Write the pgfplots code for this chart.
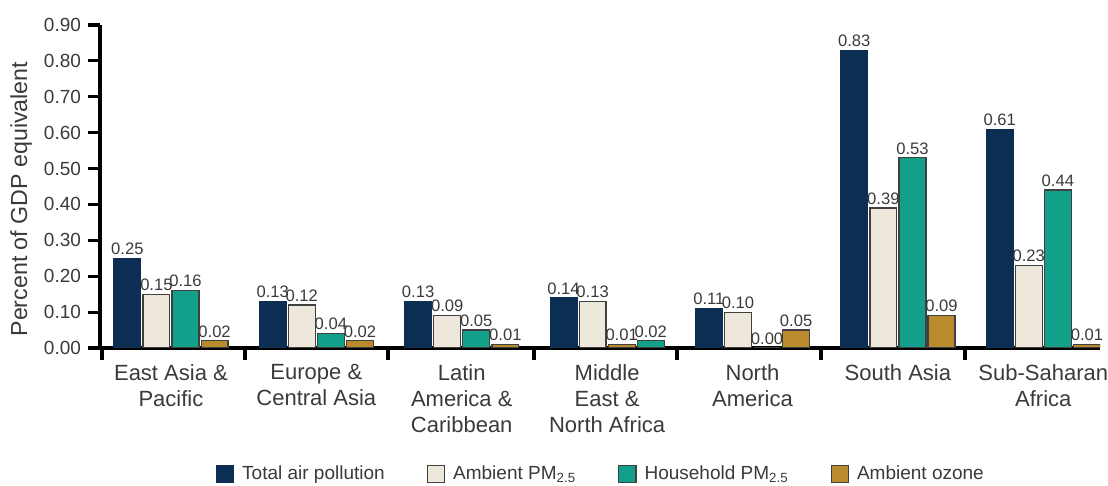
\documentclass[border=0pt]{standalone}
\usepackage{fontspec}
\setmainfont{Liberation Sans}
\usepackage{pgfplots}
\pgfplotsset{compat=1.18}
\definecolor{navy}{HTML}{0B2E52}
\definecolor{beige}{HTML}{EEE7DC}
\definecolor{tealbar}{HTML}{13A08A}
\definecolor{gold}{HTML}{B98A2E}
\definecolor{txt}{HTML}{3A3A3A}

\begin{document}
\begin{tikzpicture}
\begin{axis}[
    name=ax,
    width=500pt, height=161.5pt, scale only axis,
    xmin=-0.488, xmax=6.39, ymin=0, ymax=0.9,
    ybar, bar shift=0pt, bar width=0.185,
    axis x line*=bottom, axis y line*=left,
    axis line style={line width=1.6pt, black},
    tick align=outside,
    major tick length=6pt, minor tick length=6pt,
    ytick={0,0.1,...,0.9},
    major y tick style={line width=1.6pt, black},
    xtick={0,1,2,3,4,5,6},
    xticklabels={{East Asia \&\\Pacific},{Europe \&\\Central Asia},{Latin\\America \&\\Caribbean},{Middle\\East \&\\North Africa},{North\\America},{South Asia},{Sub-Saharan\\Africa}},
    major x tick style={draw=none},
    minor xtick={-0.475,0.508,1.49,2.50,3.48,4.47,5.46},
    minor x tick style={line width=2pt, black},
    xticklabel style={align=center, font=\fontsize{11}{13}\selectfont, text=txt, yshift=1.5pt},
    yticklabel style={font=\fontsize{9.5}{11}\selectfont, text=txt},
    ylabel={Percent of GDP equivalent},
    ylabel style={font=\fontsize{11.6}{13}\selectfont, text=txt,
        at={(axis description cs:-0.079,0.461)}, anchor=center},
    nodes near coords,
    nodes near coords style={font=\fontsize{8.3}{9}\selectfont, text=txt, inner sep=1.5pt},
    /pgf/number format/fixed,
    /pgf/number format/zerofill,
    /pgf/number format/precision=2,
    /pgf/number format/assume math mode=true,
    legend columns=4,
    legend style={draw=none, at={(0.502,-0.39)}, anchor=center,
        font=\fontsize{9.5}{11}\selectfont, text=txt,
        /tikz/every even column/.append style={column sep=19pt},
        /tikz/every odd column/.append style={column sep=2pt}},
    legend image code/.code={\draw[#1] (0pt,-4.2pt) rectangle (8.6pt,4.2pt);},
]

% Total air pollution
\addplot[fill=navy, draw=navy] coordinates {
    (-0.3,0.25) (0.7,0.13) (1.7,0.13) (2.7,0.14) (3.7,0.11) (4.7,0.83) (5.7,0.61)
};

% Ambient PM2.5
\addplot[fill=beige, draw=black!75, line width=0.6pt] coordinates {
    (-0.1,0.15) (0.9,0.12) (1.9,0.09) (2.9,0.13) (3.9,0.10) (4.9,0.39) (5.9,0.23)
};

% Household PM2.5 (Middle East bar sits in the last slot)
\addplot[fill=tealbar, draw=black!75, line width=0.6pt] coordinates {
    (0.1,0.16) (1.1,0.04) (2.1,0.05) (3.3,0.02) (4.1,0.00) (5.1,0.53) (6.1,0.44)
};

% Ambient ozone (Middle East bar sits in the third slot)
\addplot[fill=gold, draw=black!75, line width=0.6pt] coordinates {
    (0.3,0.02) (1.3,0.02) (2.3,0.01) (3.1,0.01) (4.3,0.05) (5.3,0.09) (6.3,0.01)
};

\legend{Total air pollution, Ambient PM\textsubscript{2.5}, Household PM\textsubscript{2.5}, Ambient ozone}
\end{axis}
% page frame matching the reference margins
\pgfresetboundingbox
\path[use as bounding box] ([shift={(-50pt,-69pt)}]ax.south west) rectangle ([shift={(4pt,12.5pt)}]ax.north east);
\end{tikzpicture}
\end{document}
